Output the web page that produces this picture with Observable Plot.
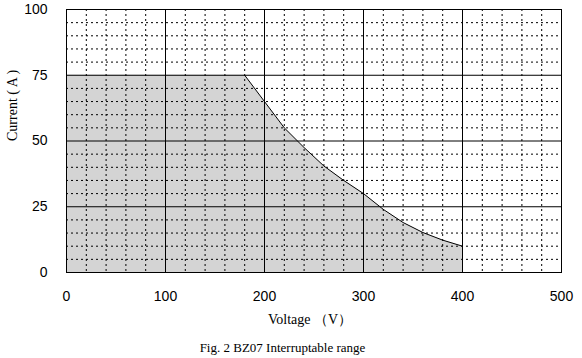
<!DOCTYPE html>
<html><head><meta charset="utf-8">
<script src="https://cdn.jsdelivr.net/npm/d3@7"></script>
<script src="https://cdn.jsdelivr.net/npm/@observablehq/plot@0.6"></script>
<style>
body{margin:0;background:#fff;}
#wrap{position:relative;width:582px;height:358px;}
#cap{position:absolute;left:0;top:336px;width:565px;text-align:center;font:13px "Liberation Serif","Times New Roman",serif;line-height:24px;color:#000;}
</style>
</head><body>
<div id="wrap"><div id="chart"></div><div id="cap">Fig. 2 BZ07 Interruptable range</div></div>
<script>
// Boundary of the interruptable range
const voltage = [0, 180, 200, 220, 240, 260, 280, 300, 320, 340, 360, 380, 400];
const current = [75, 75, 65, 55, 47.5, 40.5, 35, 30, 24, 19, 15.2, 12.3, 10];
const xTicks = [0, 100, 200, 300, 400, 500];
const yTicks = [0, 25, 50, 75, 100];
const xLabel = "Voltage （V）";
const yLabel = "Current ( A )";

const pts = voltage.map((v, i) => ({v, c: current[i]}));
const curvePts = pts.filter(d => d.v >= 180);
const xMinor = d3.range(0, 501, 20).filter(v => v % 100 !== 0);
const yMinor = d3.range(0, 101, 5).filter(v => v % 25 !== 0);

const chart = Plot.plot({
  width: 582,
  height: 336,
  marginLeft: 66,
  marginRight: 21,
  marginTop: 9,
  marginBottom: 64,
  x: {domain: [0, 500]},
  y: {domain: [0, 100]},
  style: {background: "#fff", color: "#000"},
  marks: [
    Plot.areaY(pts, {x: "v", y: "c", fill: "#d4d4d4"}),
    Plot.ruleX(xMinor, {stroke: "#000", strokeWidth: 1, strokeDasharray: "2,3"}),
    Plot.ruleY(yMinor, {stroke: "#000", strokeWidth: 1, strokeDasharray: "2,3"}),
    Plot.ruleX(xTicks, {stroke: "#000", strokeWidth: 1}),
    Plot.ruleY(yTicks, {stroke: "#000", strokeWidth: 1}),
    Plot.line(curvePts, {x: "v", y: "c", stroke: "#000", strokeWidth: 1}),
    Plot.frame({stroke: "#000", strokeWidth: 1}),
    Plot.axisX(xTicks, {tickSize: 0, tickPadding: 19, label: null, fontSize: 14, fontFamily: "Liberation Sans, Arial, sans-serif", fill: "#000"}),
    Plot.axisY(yTicks, {tickSize: 0, tickPadding: 19, label: null, fontSize: 14, fontFamily: "Liberation Sans, Arial, sans-serif", fill: "#000"}),
    Plot.text([xLabel], {frameAnchor: "bottom", dy: 51, dx: -4, fontSize: 14, fontFamily: "Liberation Serif, Times New Roman, serif", fill: "#000"}),
    Plot.text([yLabel], {frameAnchor: "left", dx: -54, rotate: -90, fontSize: 14, fontFamily: "Liberation Serif, Times New Roman, serif", fill: "#000"})
  ]
});
document.getElementById("chart").appendChild(chart);
</script>
</body></html>
